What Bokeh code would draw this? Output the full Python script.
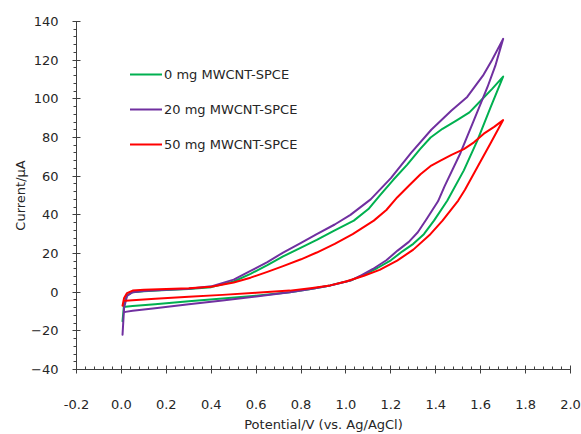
from bokeh.plotting import figure
from bokeh.models import (Range1d, SingleIntervalTicker, PrintfTickFormatter,
                          Legend, LegendItem)
from bokeh.embed import file_html
from bokeh.resources import INLINE

# ---------------- data ----------------
series_names = ["0 mg MWCNT-SPCE", "20 mg MWCNT-SPCE", "50 mg MWCNT-SPCE"]
series_colors = ["#00B050", "#7030A0", "#FF0000"]

# 0 mg (green): forward scan then reverse scan
v0_fwd = [0.005, 0.012, 0.025, 0.05, 0.1, 0.2, 0.3, 0.4, 0.5, 0.575, 0.65, 0.72,
          0.8, 0.87, 0.95, 1.035, 1.10, 1.154, 1.21, 1.273, 1.33, 1.377, 1.43,
          1.495, 1.55, 1.6, 1.65, 1.70]
i0_fwd = [-15, -6, -1.5, 0, 0.5, 1.1, 1.6, 2.6, 5.5, 9.5, 14, 18.5,
          23, 27, 32, 37, 43, 50.5, 58, 66, 74, 80, 84.5,
          89, 93, 99, 105, 111.5]
v0_rev = [1.70, 1.644, 1.585, 1.525, 1.451, 1.392, 1.347, 1.30, 1.25, 1.20, 1.14,
          1.08, 1.02, 0.93, 0.85, 0.75, 0.6, 0.45, 0.3, 0.15, 0.05, 0.018]
i0_rev = [111.5, 95.6, 78.4, 63, 47.3, 37, 30, 25, 21, 16.5, 12.5,
          9, 6, 3.5, 1.8, 0, -1.8, -3.3, -4.7, -6.2, -7.2, -7.6]

# 20 mg (purple)
v20_fwd = [0.005, 0.012, 0.025, 0.05, 0.1, 0.2, 0.3, 0.4, 0.5, 0.575, 0.65, 0.72,
           0.8, 0.87, 0.95, 1.02, 1.11, 1.2, 1.29, 1.38, 1.47, 1.54, 1.61, 1.65, 1.70]
i20_fwd = [-22, -8, -2, 0, 0.6, 1.2, 1.8, 3.0, 6.5, 11, 15.5, 20.5,
           25.5, 30, 35, 40, 48, 59, 72, 84, 94, 101, 112, 120, 131]
v20_rev = [1.70, 1.665, 1.63, 1.57, 1.51, 1.44, 1.41, 1.36, 1.32, 1.28, 1.23, 1.18,
           1.12, 1.07, 1.02, 0.93, 0.85, 0.75, 0.6, 0.45, 0.3, 0.15, 0.05, 0.018]
i20_rev = [131, 117, 106, 89, 72, 55, 47, 38, 31, 26, 21.5, 16.5,
           12, 8.8, 6, 3.4, 1.8, 0, -2.2, -4.3, -6.3, -8.3, -9.6, -10.2]

# 50 mg (red)
v50_fwd = [0.005, 0.012, 0.025, 0.05, 0.1, 0.2, 0.3, 0.4, 0.5, 0.575, 0.65, 0.72,
           0.8, 0.87, 0.95, 1.03, 1.124, 1.18, 1.228, 1.28, 1.332, 1.38, 1.421,
           1.47, 1.525, 1.57, 1.614, 1.66, 1.70]
i50_fwd = [-7, -3, -0.5, 0.8, 1.2, 1.6, 2.0, 2.8, 5.0, 7.5, 10.5, 13.5,
           17, 20.5, 25, 30, 37, 42.5, 49, 55, 61, 65.5, 68,
           71, 74, 77.5, 82, 85.5, 89]
v50_rev = [1.70, 1.644, 1.585, 1.53, 1.50, 1.43, 1.376, 1.30, 1.228, 1.15, 1.08,
           1.0, 0.93, 0.85, 0.75, 0.6, 0.45, 0.3, 0.15, 0.05, 0.018]
i50_rev = [89, 77, 64.6, 53, 47.4, 37, 30, 22, 16.3, 11.5, 8.5,
           5.5, 3.5, 2.2, 0.8, -0.3, -1.4, -2.4, -3.4, -4.2, -4.5]

x_min, x_max, x_step = -0.2, 2.0, 0.2
y_min, y_max, y_step = -40, 140, 20
x_label = "Potential/V (vs. Ag/AgCl)"
y_label = "Current/\u03bcA"

# ---------------- figure ----------------
FONT = "DejaVu Sans"
FS = 13
TEXT = "#262626"
W, H = 581, 434
BL, BR, BT, BB = 76, 11, 21, 65

p = figure(width=W, height=H, output_backend="svg", toolbar_location=None,
           x_range=Range1d(x_min, x_max), y_range=Range1d(y_min, y_max),
           min_border_left=BL, min_border_right=BR, min_border_top=BT,
           min_border_bottom=BB)
p.outline_line_color = None
p.xgrid.visible = False
p.ygrid.visible = False
p.background_fill_color = "white"
p.border_fill_color = "white"

data = [(v0_fwd + v0_rev, i0_fwd + i0_rev),
        (v20_fwd + v20_rev, i20_fwd + i20_rev),
        (v50_fwd + v50_rev, i50_fwd + i50_rev)]
items = []
for (vx, iy), name, col in zip(data, series_names, series_colors):
    r = p.line(vx, iy, line_color=col, line_width=2.0, line_join="round",
               line_cap="round")
    items.append(LegendItem(label=name, renderers=[r]))

# axes
xa = p.xaxis[0]
ya = p.yaxis[0]
xa.ticker = SingleIntervalTicker(interval=x_step, num_minor_ticks=5)
ya.ticker = SingleIntervalTicker(interval=y_step, num_minor_ticks=5)
xa.formatter = PrintfTickFormatter(format="%.1f")
for ax in (xa, ya):
    ax.axis_line_color = "#404040"
    ax.major_tick_line_color = "#404040"
    ax.minor_tick_line_color = "#404040"
    ax.major_tick_in = 4
    ax.major_tick_out = 4
    ax.major_label_text_font = FONT
    ax.major_label_text_font_size = f"{FS}px"
    ax.major_label_text_color = TEXT
    ax.axis_label_text_font = FONT
    ax.axis_label_text_font_size = f"{FS}px"
    ax.axis_label_text_font_style = "normal"
    ax.axis_label_text_color = TEXT
xa.minor_tick_in = 3
xa.minor_tick_out = 0
ya.minor_tick_in = 0
ya.minor_tick_out = 3
xa.major_label_standoff = 26
xa.axis_label = x_label
xa.axis_label_standoff = 5
ya.axis_label = y_label
ya.major_label_standoff = 14
ya.axis_label_standoff = 0

legend = Legend(items=items, location=(54, 215), orientation="vertical",
                glyph_width=32, glyph_height=20, label_height=20,
                label_standoff=2, spacing=15, padding=0, margin=0,
                border_line_alpha=0, background_fill_alpha=0,
                label_text_font=FONT, label_text_font_size=f"{FS}px",
                label_text_color=TEXT)
p.add_layout(legend, "center")

open("out.html", "w").write(file_html(p, INLINE))
